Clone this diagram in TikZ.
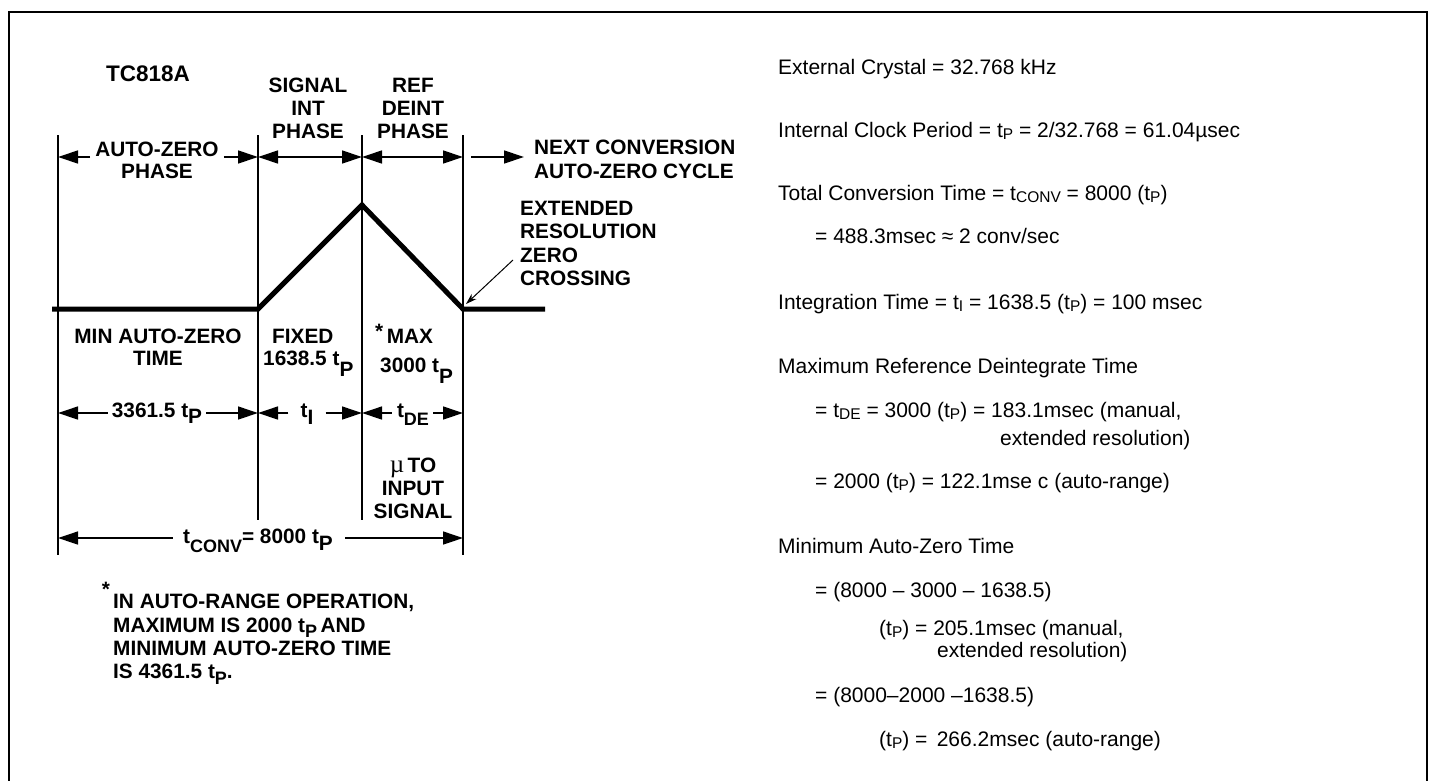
\documentclass[tikz,border=0pt]{standalone}
\usepackage{fontspec}
\setmainfont{Liberation Sans}
\usetikzlibrary{arrows.meta}
\newcommand\lf{\fontsize{20.8}{23}\selectfont\bfseries}
\newcommand\rf{\fontsize{21}{23}\selectfont}
\newcommand\bsub[2][8pt]{\raisebox{-#1}{#2}}
\newcommand\ssub[2][8pt]{\raisebox{-#1}{\fontsize{18}{18}\selectfont #2}}
\newcommand\rsub[1]{\raisebox{-2.5pt}{\fontsize{15.5}{15.5}\selectfont #1}}
\begin{document}
\begin{tikzpicture}[x=1pt,y=-1pt,
  lbl/.style={font=\lf, inner sep=0, anchor=base},
  lblw/.style={font=\lf, inner sep=0, anchor=base west},
  rtxt/.style={font=\rf, inner sep=0, anchor=base west},
  guide/.style={line width=1.3pt},
  wave/.style={line width=5pt, line join=miter},
  dim/.style={line width=1.3pt, -{Triangle[length=20pt,width=13pt]}},
  ptr/.style={line width=1pt, -{Stealth[length=11pt,width=7pt]}},
  frame/.style={line width=2pt}]
\useasboundingbox (0,0) rectangle (1431,781);
% frame
\draw[frame] (9,781) -- (9,12) -- (1427,12) -- (1427,781);

% guide lines
\coordinate (g0t) at (58,135);  \coordinate (g0b) at (58,555);
\coordinate (g1t) at (258,135); \coordinate (g1b) at (258,520);
\coordinate (g2t) at (362,135); \coordinate (g2b) at (362,520);
\coordinate (g3t) at (463,135); \coordinate (g3b) at (463,555);
\draw[guide] (g0t) -- (g0b);
\draw[guide] (g1t) -- (g1b);
\draw[guide] (g2t) -- (g2b);
\draw[guide] (g3t) -- (g3b);

% waveform
\coordinate (w0) at (52,309);
\coordinate (w1) at (258,309);
\coordinate (w2) at (362,205);
\coordinate (w3) at (463,309);
\coordinate (w4) at (545,309);
\draw[wave] (w0) -- (w1) -- (w2) -- (w3) -- (w4);

% title
\node[lbl, font=\fontsize{22.5}{24}\selectfont\bfseries] (title) at (148,82) {TC818A};

% top phase labels
\node[lbl] (az1) at (157,156) {AUTO-ZERO};
\node[lbl] (az2) at (157,178) {PHASE};
\coordinate (a0l) at (58,157); \coordinate (a0r) at (258,157);
\draw[dim] (az1.west |- a0l) ++(-5,0) -- (a0l);
\draw[dim] (az1.east |- a0r) ++(5,0) -- (a0r);

\node[lbl] (si1) at (308,93) {SIGNAL};
\node[lbl] (si2) at (308,116) {INT};
\node[lbl] (si3) at (308,139) {PHASE};
\coordinate (a1l) at (258,157); \coordinate (a1r) at (362,157);
\draw[dim] (310,157) -- (a1l);
\draw[dim] (310,157) -- (a1r);

\node[lbl] (rd1) at (413,93) {REF};
\node[lbl] (rd2) at (413,116) {DEINT};
\node[lbl] (rd3) at (413,139) {PHASE};
\coordinate (a2l) at (362,157); \coordinate (a2r) at (463,157);
\draw[dim] (412,157) -- (a2l);
\draw[dim] (412,157) -- (a2r);

\node[lblw] (nc1) at (534,154) {NEXT CONVERSION};
\node[lblw] (nc2) at (534,178) {AUTO-ZERO CYCLE};
\coordinate (a3l) at (471,157); \coordinate (a3r) at (524,157);
\draw[dim] (a3l) -- (a3r);

% zero crossing label
\node[lblw] (ex1) at (520,215) {EXTENDED};
\node[lblw] (ex2) at (520,238) {RESOLUTION};
\node[lblw] (ex3) at (520,262) {ZERO};
\node[lblw] (ex4) at (520,285) {CROSSING};
\coordinate (zc) at (466,304);
\draw[ptr] (513,260) -- (zc);

% lower labels
\node[lbl] (mz1) at (158,343) {MIN AUTO-ZERO};
\node[lbl] (mz2) at (158,365) {TIME};
\node[lblw] (fx1) at (272,343) {FIXED};
\node[lblw] (fx2) at (263,365) {1638.5 t\bsub[11pt]{P}};
\node[lblw] (mx1) at (375,343) {\raisebox{5pt}{*}\,MAX};
\node[lblw] (mx2) at (380,372) {3000 t\bsub[11pt]{P}};

% duration row
\coordinate (d0l) at (58,413); \coordinate (d0r) at (258,413);
\node[lbl] (d0) at (157,417) {3361.5 t\bsub[6pt]{P}};
\draw[dim] (d0.west |- d0l) ++(-4,0) -- (d0l);
\draw[dim] (d0.east |- d0r) ++(4,0) -- (d0r);
\coordinate (d1l) at (258,413); \coordinate (d1r) at (362,413);
\node[lbl] (d1) at (307,417) {t\bsub[7pt]{I}};
\draw[dim] (d1.west |- d1l) ++(-12,0) -- (d1l);
\draw[dim] (d1.east |- d1r) ++(12,0) -- (d1r);
\coordinate (d2l) at (362,413); \coordinate (d2r) at (463,413);
\node[lbl] (d2) at (413,417) {t\ssub[8pt]{DE}};
\draw[dim] (d2.west |- d2l) ++(-5,0) -- (d2l);
\draw[dim] (d2.east |- d2r) ++(4,0) -- (d2r);

\node[lbl] (mu1) at (413,472) {{\fontsize{25}{25}\selectfont\mdseries\fontspec{Liberation Serif}µ}\,TO};
\node[lbl] (mu2) at (413,495) {INPUT};
\node[lbl] (mu3) at (413,518) {SIGNAL};

% total conversion
\coordinate (tcl) at (58,538); \coordinate (tcr) at (463,538);
\node[lbl] (tc) at (258,543) {t\ssub[9pt]{CONV}= 8000 t\bsub[7pt]{P}};
\draw[dim] (tc.west |- tcl) ++(-10,0) -- (tcl);
\draw[dim] (tc.east |- tcr) ++(12,0) -- (tcr);

% footnote
\node[lbl] (fnstar) at (106,596) {*};
\node[lblw] (fn1) at (113,608) {IN AUTO-RANGE OPERATION,};
\node[lblw] (fn2) at (113,632) {MAXIMUM IS 2000 t\ssub[5pt]{P}\,AND};
\node[lblw] (fn3) at (113,655) {MINIMUM AUTO-ZERO TIME};
\node[lblw] (fn4) at (113,678) {IS 4361.5 t\ssub[6pt]{P}.};

% right-hand text
\node[rtxt] (r1) at (778,75) {External Crystal = 32.768 kHz};
\node[rtxt] (r2) at (778,137) {Internal Clock Period = t\rsub{P} = 2/32.768 = 61.04µsec};
\node[rtxt] (r3) at (778,200) {Total Conversion Time = t\rsub{CONV} = 8000 (t\rsub{P})};
\node[rtxt] (r4) at (815,243) {= 488.3msec ≈ 2 conv/sec};
\node[rtxt] (r5) at (778,309) {Integration Time = t\rsub{I} = 1638.5 (t\rsub{P}) = 100 msec};
\node[rtxt] (r6) at (778,373) {Maximum Reference Deintegrate Time};
\node[rtxt] (r7) at (815,417) {= t\rsub{DE} = 3000 (t\rsub{P}) = 183.1msec (manual,};
\node[rtxt] (r8) at (1000,445) {extended resolution)};
\node[rtxt] (r9) at (815,488) {= 2000 (t\rsub{P}) = 122.1mse c (auto-range)};
\node[rtxt] (r10) at (778,553) {Minimum Auto-Zero Time};
\node[rtxt] (r11) at (815,597) {= (8000 – 3000 – 1638.5)};
\node[rtxt] (r12) at (879,635) {(t\rsub{P}) = 205.1msec (manual,};
\node[rtxt] (r13) at (937,657) {extended resolution)};
\node[rtxt] (r14) at (815,702) {= (8000–2000 –1638.5)};
\node[rtxt] (r15) at (879,746) {(t\rsub{P}) = \,266.2msec (auto-range)};
\end{tikzpicture}
\end{document}
